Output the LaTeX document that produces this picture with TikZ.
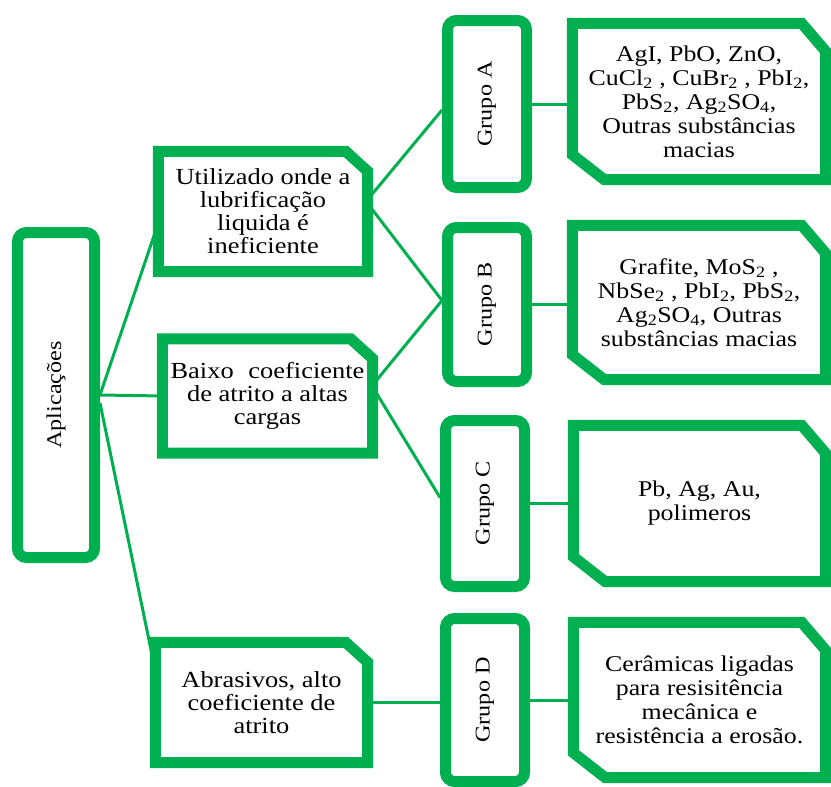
\documentclass[tikz,border=0pt]{standalone}
\usepackage{fontspec}
\usepackage{graphicx}
\usetikzlibrary{calc}
\newfontfamily\bxfont[FakeStretch=1.15]{Liberation Serif}
\definecolor{grn}{RGB}{0,176,80}
\newcommand\sbt[1]{\textsubscript{#1}}
\newcommand\rlbl[1]{\rotatebox{90}{\bxfont\fontsize{21}{21}\selectfont #1}}
\begin{document}
\begin{tikzpicture}[x=1pt,y=-1pt,
  frame/.style={draw=grn, line width=11pt, line join=miter},
  conn/.style={draw=grn, line width=3pt},
  grp/.style={draw=grn, line width=11pt, rounded corners=9pt, fill=white, inner sep=0pt, minimum width=79pt},
  midbox/.style={inner sep=0pt, align=center, font=\bxfont\fontsize{23}{23}\selectfont},
  rbox/.style={inner sep=0pt, align=center, font=\bxfont\fontsize{22.5}{24}\selectfont}]
\useasboundingbox (0,0) rectangle (831,787);
\clip (0,0) rectangle (831,787);
\fill[white] (0,0) rectangle (831,787);

% left node
\node[grp, minimum width=77pt, minimum height=325pt] (apl) at (56,395) {\rlbl{Aplicações}};

% middle nodes
\node[midbox, minimum width=209pt, minimum height=120pt] (u) at (263,211.5)
  {Utilizado onde a\\ lubrificação\\ liquida é\\ ineficiente};
\node[midbox, minimum width=210pt, minimum height=114pt] (b) at (267.5,396)
  {Baixo\hspace{0.35em} coeficiente\\ de atrito a altas\\ cargas};
\node[midbox, minimum width=212pt, minimum height=120pt] (ab) at (261.5,702.5)
  {Abrasivos, alto\\ coeficiente de\\ atrito};

\foreach \n in {u,b,ab}{
  \draw[frame] (\n.north west) -- ($(\n.north east)+(-22,0)$) -- ($(\n.north east)+(0,20)$)
    -- (\n.south east) -- (\n.south west) -- cycle;
}

% group nodes
\node[grp, minimum height=167pt] (ga) at (487,104) {\rlbl{Grupo A}};
\node[grp, minimum height=154pt] (gb) at (487,304.5) {\rlbl{Grupo B}};
\node[grp, minimum height=166pt] (gc) at (485,503.5) {\rlbl{Grupo C}};
\node[grp, minimum height=163pt] (gd) at (485,700) {\rlbl{Grupo D}};

% right nodes
\node[rbox, minimum width=253pt, minimum height=156pt] (ra) at (699,101.5)
  {AgI, PbO, ZnO,\\ CuCl\sbt{2} , CuBr\sbt{2} , PbI\sbt{2},\\ PbS\sbt{2}, Ag\sbt{2}SO\sbt{4},\\ Outras substâncias\\ macias};
\node[rbox, minimum width=253pt, minimum height=154pt] (rb) at (699,302.5)
  {Grafite, MoS\sbt{2} ,\\ NbSe\sbt{2} , PbI\sbt{2}, PbS\sbt{2},\\ Ag\sbt{2}SO\sbt{4}, Outras\\ substâncias macias};
\node[rbox, minimum width=252pt, minimum height=156pt] (rc) at (699.5,503.5)
  {Pb, Ag, Au,\\ polimeros};
\node[rbox, minimum width=252pt, minimum height=155pt] (rd) at (699.5,700)
  {Cerâmicas ligadas\\ para resisitência\\ mecânica e\\ resistência a erosão.};

\foreach \n in {ra,rb,rc,rd}{
  \draw[frame] (\n.north west) -- ($(\n.north east)+(-24,0)$) -- ($(\n.north east)+(0,28)$)
    -- (\n.south east) -- ($(\n.south west)+(32,0)$) -- ($(\n.south west)+(0,-25)$) -- cycle;
}

% connectors
\draw[conn] (apl.east) -- ($(u.west)+(0,11.5)$);
\draw[conn] (apl.east) -- (b.west);
\draw[conn] ($(apl.east)+(0,8)$) -- ($(ab.west)+(0,-32)$);
\draw[conn] ($(u.east)+(0,-12)$) -- ($(ga.west)+(0,6)$);
\draw[conn] ($(u.east)+(0,-8)$) -- ($(gb.west)+(0,-4)$);
\draw[conn] ($(b.east)+(0,-11)$) -- ($(gb.west)+(0,-4)$);
\draw[conn] ($(b.east)+(0,-9)$) -- ($(gc.west)+(0,-6)$);
\draw[conn] (ab.east) -- (ab.east -| gd.west);
\draw[conn] (ga.east) -- (ga.east -| ra.west);
\draw[conn] (gb.east) -- (gb.east -| rb.west);
\draw[conn] (gc.east) -- (gc.east -| rc.west);
\draw[conn] (gd.east) -- (gd.east -| rd.west);
\end{tikzpicture}
\end{document}
